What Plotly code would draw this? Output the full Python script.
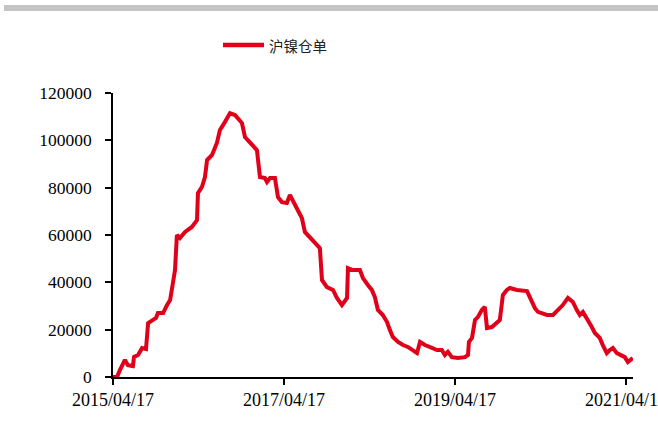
import plotly.graph_objects as go

series_name = "沪镍仓单"

dates = [
    "2015-04-17", "2015-05-04", "2015-05-17", "2015-05-30", "2015-06-07", "2015-06-20",
    "2015-07-11", "2015-07-16", "2015-08-02", "2015-08-19", "2015-09-05", "2015-09-14",
    "2015-10-01", "2015-10-18", "2015-10-26", "2015-11-17", "2015-12-04", "2015-12-17",
    "2015-12-29", "2016-01-07", "2016-01-15", "2016-01-28", "2016-02-19", "2016-03-02",
    "2016-03-19", "2016-04-10", "2016-04-14", "2016-05-01", "2016-05-14", "2016-05-23",
    "2016-06-13", "2016-07-04", "2016-07-17", "2016-08-07", "2016-08-29", "2016-09-19",
    "2016-10-02", "2016-10-19", "2016-11-01", "2016-11-22", "2016-12-22", "2017-01-04",
    "2017-01-25", "2017-02-03", "2017-02-16", "2017-03-09", "2017-03-22", "2017-04-08",
    "2017-04-29", "2017-05-12", "2017-06-03", "2017-07-02", "2017-07-15", "2017-08-14",
    "2017-09-05", "2017-09-17", "2017-09-26", "2017-10-17", "2017-11-12", "2017-11-29",
    "2017-12-20", "2018-01-11", "2018-01-15", "2018-02-05", "2018-03-07", "2018-03-20",
    "2018-04-10", "2018-04-27", "2018-05-10", "2018-05-23", "2018-06-13", "2018-07-01",
    "2018-07-13", "2018-07-26", "2018-08-17", "2018-09-07", "2018-09-28", "2018-10-20",
    "2018-11-06", "2018-11-19", "2018-12-10", "2019-01-09", "2019-01-30", "2019-02-20",
    "2019-03-05", "2019-03-18", "2019-04-04", "2019-04-30", "2019-05-30", "2019-06-12",
    "2019-06-16", "2019-06-29", "2019-07-12", "2019-07-24", "2019-08-10", "2019-08-23",
    "2019-09-01", "2019-09-22", "2019-10-13", "2019-10-26", "2019-11-08", "2019-11-25",
    "2019-12-08", "2020-01-07", "2020-02-19", "2020-03-02", "2020-03-24", "2020-04-06",
    "2020-04-27", "2020-05-14", "2020-06-09", "2020-06-30", "2020-07-21", "2020-08-12",
    "2020-09-02", "2020-09-19", "2020-10-02", "2020-10-15", "2020-11-01", "2020-11-22",
    "2020-12-05", "2020-12-26", "2021-01-08", "2021-01-25", "2021-02-07", "2021-02-20",
    "2021-03-09", "2021-03-30", "2021-04-12", "2021-04-25", "2021-05-04", "2021-05-16",
]

values = [
    0, 0, 3000, 6300, 7200, 5000,
    4600, 8500, 9300, 12200, 11800, 22800,
    24000, 25000, 27000, 27000, 30400, 32500,
    39700, 45200, 60000, 58700, 61300, 62100,
    63400, 66300, 77700, 80300, 84500, 91700,
    93800, 98900, 104400, 107700, 111500, 110700,
    109400, 107300, 101400, 99300, 95900, 84500,
    84100, 82400, 84100, 84100, 76000, 73900,
    73500, 76900, 72700, 67200, 61300, 57900,
    55800, 54500, 41000, 38000, 36800, 33400,
    30400, 33400, 46000, 45200, 45200, 41800,
    38900, 36800, 33800, 28300, 26200, 23200,
    19900, 16900, 14800, 13500, 12700, 11400,
    10100, 14800, 13500, 12300, 11400, 11400,
    9300, 10600, 8400, 8000, 8400, 9300,
    14800, 16500, 24100, 25300, 28300, 29600,
    20700, 21100, 22800, 24100, 34600, 36800,
    37600, 36800, 36300, 33800, 29100, 27500,
    27000, 26200, 26200, 28300, 30400, 33400,
    31700, 28300, 26200, 27500, 24900, 21100,
    18600, 16500, 13500, 10100, 11400, 12300,
    10100, 9300, 8400, 6300, 7200, 8000,
]

x_tickvals = ["2015-04-17", "2017-04-17", "2019-04-17", "2021-04-17"]
x_ticktext = ["2015/04/17", "2017/04/17", "2019/04/17", "2021/04/17"]
y_tickvals = [0, 20000, 40000, 60000, 80000, 100000, 120000]
y_ticktext = ["0", "20000", "40000", "60000", "80000", "100000", "120000"]

line_color = "#e0001a"

fig = go.Figure()
fig.add_trace(go.Scatter(
    x=dates, y=values, mode="lines", name=series_name,
    line=dict(color=line_color, width=4),
    showlegend=False,
))

serif = "Liberation Serif, Times New Roman, serif"

# plot area: x 113..633 px, y 93..377 px
PL, PR, PT, PB = 113, 633, 93, 377
def px(x):
    return (x - PL) / (PR - PL)
def py(y):
    return (PB - y) / (PB - PT)

fig.update_layout(
    width=658, height=423,
    margin=dict(l=PL, r=658 - PR, t=PT, b=423 - PB),
    paper_bgcolor="white", plot_bgcolor="white",
    showlegend=False,
    xaxis=dict(
        type="date", range=["2015-04-17", "2021-05-17"],
        tickvals=x_tickvals, ticktext=x_ticktext,
        showgrid=False, zeroline=False, automargin=False,
        showline=True, linecolor="black", linewidth=1.5,
        ticks="outside", ticklen=6, tickwidth=1.5, tickcolor="black",
        tickfont=dict(family=serif, size=18, color="black"),
        ticklabeloverflow="allow",
    ),
    yaxis=dict(
        range=[0, 120000], tickvals=y_tickvals, ticktext=y_ticktext,
        showgrid=False, zeroline=False, automargin=False,
        showline=True, linecolor="black", linewidth=1.5,
        ticks="outside", ticklen=6, tickwidth=1.5, tickcolor="black",
        tickfont=dict(family=serif, size=17.5, color="black"),
        ticklabelstandoff=10,
    ),
    shapes=[
        dict(type="rect", xref="paper", yref="paper",
             x0=px(4), x1=px(660), y0=py(11), y1=py(5),
             fillcolor="#c4c4c4", line=dict(width=0), layer="above"),
        dict(type="line", xref="paper", yref="paper",
             x0=px(223), x1=px(264), y0=py(45), y1=py(45),
             line=dict(color=line_color, width=4.5), layer="above"),
    ],
    annotations=[
        dict(text=series_name, xref="paper", yref="paper",
             x=px(267), y=py(45), xanchor="left", yanchor="middle",
             showarrow=False,
             font=dict(family="Noto Sans CJK SC", size=14.5, color="#222222")),
    ],
)

fig.write_html(
    "out.html",
    config={"displayModeBar": False},
    post_script="document.body.style.margin='0';document.body.style.overflow='hidden';",
)
